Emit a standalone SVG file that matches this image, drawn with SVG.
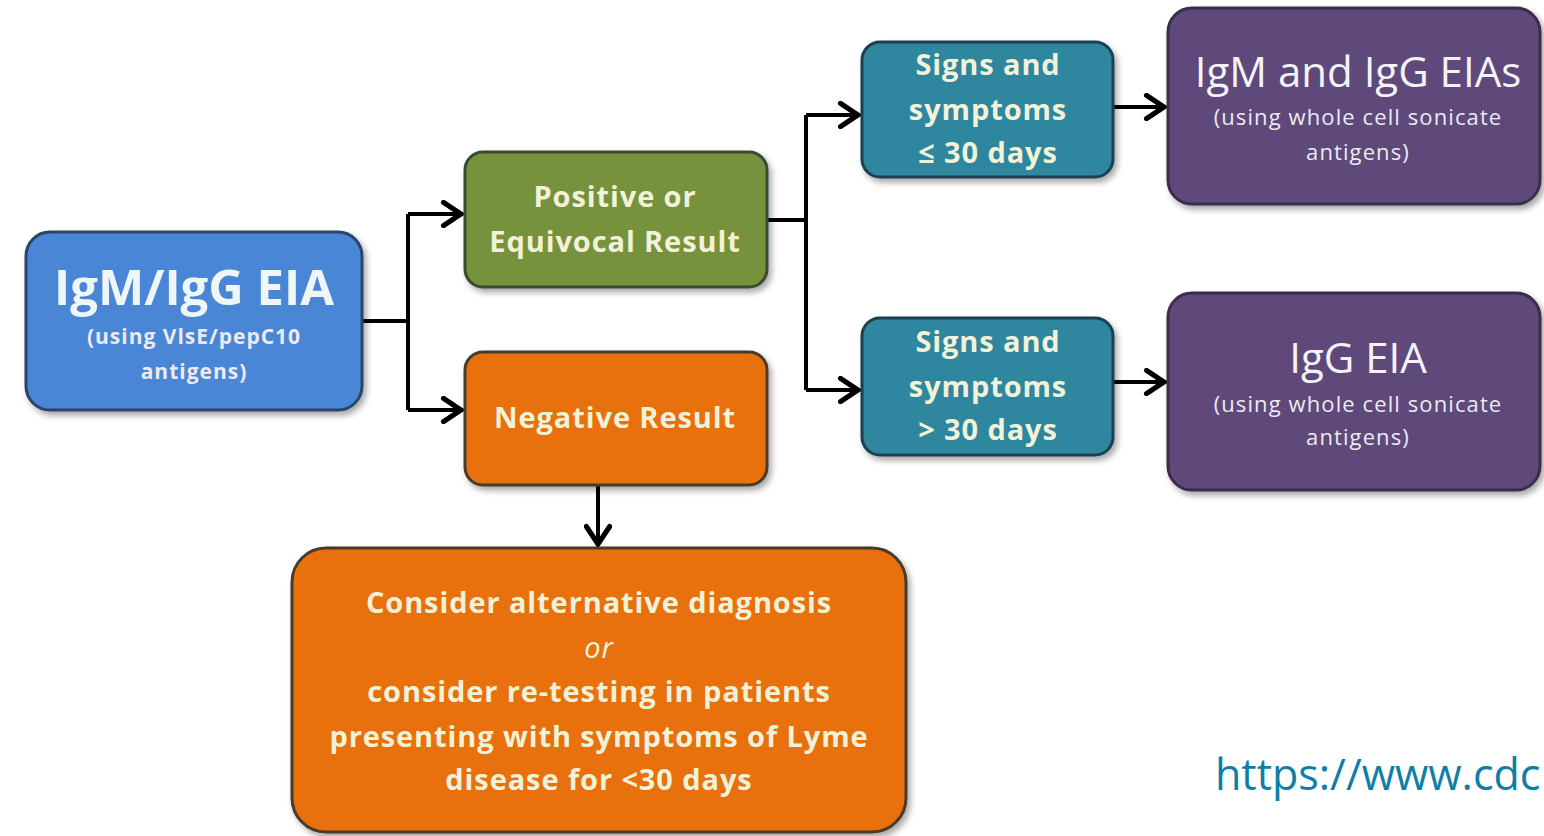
<svg xmlns="http://www.w3.org/2000/svg" width="1544" height="836" viewBox="0 0 1544 836">
  <defs>
    <marker id="chev" viewBox="0 0 12 12" refX="10" refY="6" markerWidth="7" markerHeight="7" markerUnits="strokeWidth" orient="auto">
      <polyline points="2.5,1 10,6 2.5,11" fill="none" stroke="#000" stroke-width="2.2" stroke-linecap="round" stroke-linejoin="miter"/>
    </marker>
    <filter id="shadow" x="-10%" y="-10%" width="125%" height="130%">
      <feGaussianBlur in="SourceAlpha" stdDeviation="3"/>
      <feOffset dx="3" dy="4" result="b"/>
      <feComponentTransfer><feFuncA type="linear" slope="0.35"/></feComponentTransfer>
      <feMerge><feMergeNode/><feMergeNode in="SourceGraphic"/></feMerge>
    </filter>
  </defs>
  <style>
    .box { stroke-width: 3; filter: url(#shadow); }
    .blue { fill: #4a86d6; stroke: #2a4468; }
    .green { fill: #76923c; stroke: #3a4a30; }
    .orange { fill: #e8700c; stroke: #4a3a2a; }
    .teal { fill: #2f869f; stroke: #1f3f52; }
    .purple { fill: #5f497a; stroke: #3a2e4c; }
    text { font-family: "Open Sans", "Noto Sans", "DejaVu Sans", sans-serif; text-anchor: middle; }
    .lbl { fill: #f2f2d8; font-weight: bold; font-size: 29px; letter-spacing: 0.9px; }
    .sub { fill: #eceaf0; font-size: 22px; letter-spacing: 1.1px; }
    .head { fill: #f4f4f8; font-size: 42px; }
    .conn { fill: none; stroke: #000; stroke-width: 4; }
  </style>

  <g id="connectors">
    <path class="conn" d="M362,321 H408"/>
    <path class="conn" d="M408,214 V410"/>
    <path class="conn" d="M408,214 H461" marker-end="url(#chev)"/>
    <path class="conn" d="M408,410 H461" marker-end="url(#chev)"/>
    <path class="conn" d="M767,220 H806"/>
    <path class="conn" d="M806,115 V390"/>
    <path class="conn" d="M806,115 H858" marker-end="url(#chev)"/>
    <path class="conn" d="M806,390 H858" marker-end="url(#chev)"/>
    <path class="conn" d="M1113,107 H1164" marker-end="url(#chev)"/>
    <path class="conn" d="M1113,382 H1164" marker-end="url(#chev)"/>
    <path class="conn" d="M598,485 V544" marker-end="url(#chev)"/>
  </g>

  <g id="eia-screen">
    <rect class="box blue" x="26" y="232" width="336" height="178" rx="24"/>
    <text class="head" x="194" y="305" style="font-weight:bold;font-size:49px;fill:#eef6f8">IgM/IgG EIA</text>
    <text class="sub" x="194" y="344" style="font-weight:bold;font-size:21px;letter-spacing:1px">(using VlsE/pepC10</text>
    <text class="sub" x="194" y="379" style="font-weight:bold;font-size:21px;letter-spacing:1px">antigens)</text>
  </g>

  <g id="positive">
    <rect class="box green" x="465" y="152" width="302" height="135" rx="18"/>
    <text class="lbl" x="615" y="207">Positive or</text>
    <text class="lbl" x="615" y="252">Equivocal Result</text>
  </g>

  <g id="negative">
    <rect class="box orange" x="465" y="352" width="302" height="133" rx="18"/>
    <text class="lbl" x="615" y="428">Negative Result</text>
  </g>

  <g id="early">
    <rect class="box teal" x="862" y="42" width="251" height="135" rx="18"/>
    <text class="lbl" x="988" y="75">Signs and</text>
    <text class="lbl" x="988" y="120">symptoms</text>
    <text class="lbl" x="988" y="163">≤ 30 days</text>
  </g>

  <g id="late">
    <rect class="box teal" x="862" y="318" width="251" height="137" rx="18"/>
    <text class="lbl" x="988" y="352">Signs and</text>
    <text class="lbl" x="988" y="397">symptoms</text>
    <text class="lbl" x="988" y="440">&gt; 30 days</text>
  </g>

  <g id="igm-igg">
    <rect class="box purple" x="1168" y="8" width="372" height="196" rx="24"/>
    <text class="head" x="1358" y="87">IgM and IgG EIAs</text>
    <text class="sub" x="1358" y="125">(using whole cell sonicate</text>
    <text class="sub" x="1358" y="160">antigens)</text>
  </g>

  <g id="igg">
    <rect class="box purple" x="1168" y="293" width="372" height="197" rx="24"/>
    <text class="head" x="1358" y="373">IgG EIA</text>
    <text class="sub" x="1358" y="412">(using whole cell sonicate</text>
    <text class="sub" x="1358" y="445">antigens)</text>
  </g>

  <g id="retest">
    <rect class="box orange" x="292" y="548" width="614" height="284" rx="34"/>
    <text class="lbl" x="599" y="613">Consider alternative diagnosis</text>
    <text class="lbl" x="599" y="658" style="font-style:italic;font-weight:normal">or</text>
    <text class="lbl" x="599" y="702">consider re-testing in patients</text>
    <text class="lbl" x="599" y="747">presenting with symptoms of Lyme</text>
    <text class="lbl" x="599" y="790">disease for &lt;30 days</text>
  </g>

  <text x="1215" y="790" style="text-anchor:start;font-family:'Open Sans','Noto Sans',sans-serif;font-size:43px;fill:#0e7ea8">https://www.cdc</text>
</svg>
